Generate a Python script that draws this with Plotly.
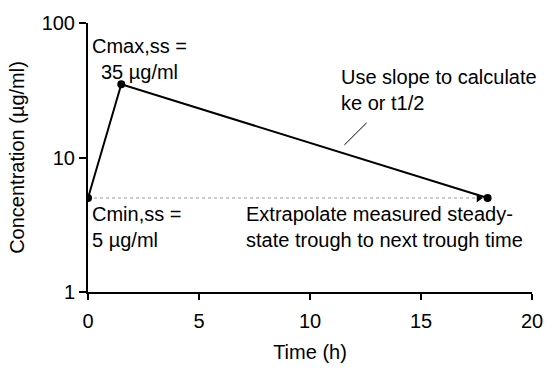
import math
import plotly.graph_objects as go

# Data
time_h = [0, 1.5, 18]
conc = [5, 35, 5]
extrap_time = [0, 17.6]
extrap_conc = [5, 5]
slope_ptr_time = [11.55, 12.55]
slope_ptr_conc = [12.4, 18.1]
x_ticks = [0, 5, 10, 15, 20]
y_ticks = [1, 10, 100]

FONT = "Liberation Sans, Arial, Helvetica, sans-serif"
FS = 20

fig = go.Figure()

# dotted extrapolation line
fig.add_trace(go.Scatter(x=extrap_time, y=extrap_conc, mode="lines",
                         line=dict(color="#9a9a9a", width=1.2, dash="dot"),
                         hoverinfo="skip", showlegend=False))
# arrowhead at end of extrapolation
fig.add_trace(go.Scatter(x=[extrap_time[-1]], y=[extrap_conc[-1]], mode="markers",
                         marker=dict(symbol="triangle-right", size=8, color="black"),
                         hoverinfo="skip", showlegend=False))
# main concentration profile
fig.add_trace(go.Scatter(x=time_h, y=conc, mode="lines+markers",
                         line=dict(color="black", width=2),
                         marker=dict(color="black", size=8),
                         showlegend=False))
# slope pointer
fig.add_trace(go.Scatter(x=slope_ptr_time, y=slope_ptr_conc, mode="lines",
                         line=dict(color="black", width=1),
                         hoverinfo="skip", showlegend=False))

annots = [
    dict(x=2.3, y=math.log10(53.7), text="Cmax,ss =<br>35 µg/ml",
         xanchor="center", align="center"),
    dict(x=11.3, y=math.log10(31.6), text="Use slope to calculate<br>ke or t1/2",
         xanchor="left", align="left"),
    dict(x=0.09, y=math.log10(3.05), text="Cmin,ss =<br>5 µg/ml",
         xanchor="left", align="left"),
    dict(x=7.03, y=math.log10(3.05),
         text="Extrapolate measured steady-<br>state trough to next trough time",
         xanchor="left", align="left"),
]
for a in annots:
    fig.add_annotation(xref="x", yref="y", showarrow=False, yanchor="middle",
                       font=dict(family=FONT, size=FS, color="black"), **a)

fig.update_xaxes(range=[0, 20], tickvals=x_ticks, ticks="outside", ticklen=6,
                 tickwidth=2, tickcolor="black", showline=True, linewidth=2,
                 linecolor="black", showgrid=False, zeroline=False,
                 ticklabelstandoff=4,
                 tickfont=dict(family=FONT, size=FS, color="black"),
                 title=dict(text="Time (h)", standoff=14,
                            font=dict(family=FONT, size=FS, color="black")))
fig.update_yaxes(type="log", range=[0, 2], tickvals=y_ticks,
                 ticktext=[str(v) for v in y_ticks], ticks="outside", ticklen=7,
                 tickwidth=2, tickcolor="black", showline=True, linewidth=2,
                 linecolor="black", showgrid=False, zeroline=False,
                 tickfont=dict(family=FONT, size=FS, color="black"),
                 title=dict(text="Concentration (µg/ml)", standoff=12,
                            font=dict(family=FONT, size=FS, color="black")))

fig.update_layout(width=555, height=372, margin=dict(l=88, r=12, t=17, b=73),
                  plot_bgcolor="white", paper_bgcolor="white",
                  font=dict(family=FONT, size=FS, color="black"))

fig.write_html("out.html")
